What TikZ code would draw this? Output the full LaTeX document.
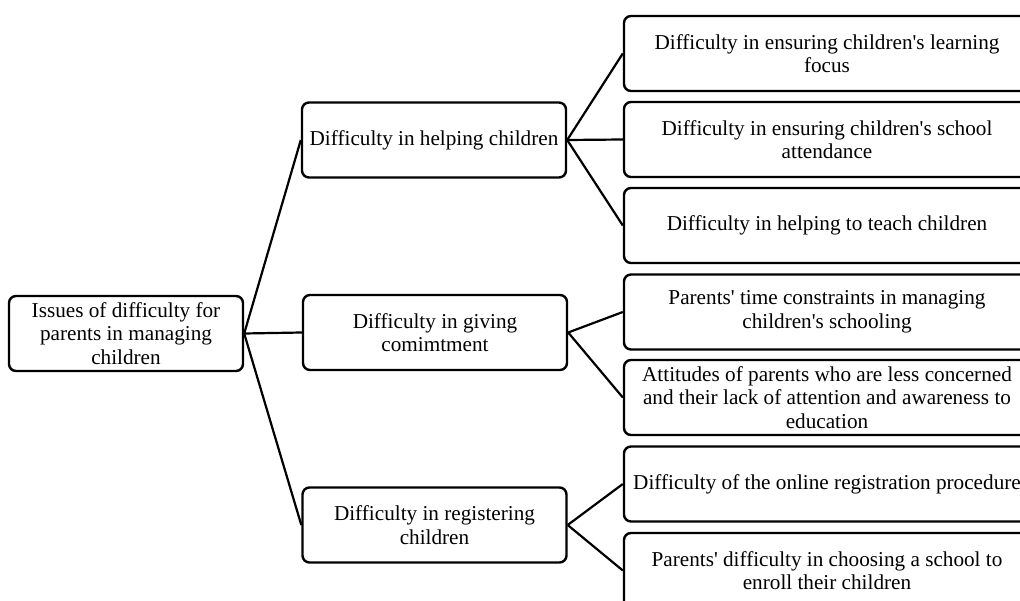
\documentclass[tikz,border=0pt]{standalone}
\usepackage{fontspec}
\setmainfont{Liberation Serif}[Ligatures=TeXOff]
\begin{document}
\begin{tikzpicture}[x=1pt,y=-1pt,
  box/.style={draw=black, line width=2.4pt, rounded corners=7pt, align=center,
    inner sep=0pt, font=\fontsize{21.2}{23.6}\selectfont},
  rootbox/.style={box, minimum width=234pt, minimum height=75pt},
  midbox/.style={box, minimum width=264pt, minimum height=75pt},
  leafbox/.style={box, minimum width=406pt, minimum height=75pt},
  conn/.style={line width=2.2pt}]
\useasboundingbox (0,0) rectangle (1020,601);
\clip (0,0) rectangle (1020,601);
\node[rootbox] (root) at (126,333.5) {Issues of difficulty for\\parents in managing\\children};
\node[midbox] (a) at (434,140) {Difficulty in helping children};
\node[midbox] (b) at (435,332.5) {Difficulty in giving\\comimtment};
\node[midbox] (c) at (434.5,525) {Difficulty in registering\\children};
\node[leafbox] (l1) at (827,53.5) {Difficulty in ensuring children's learning\\focus};
\node[leafbox] (l2) at (827,139.5) {Difficulty in ensuring children's school\\attendance};
\node[leafbox] (l3) at (827,225.5) {Difficulty in helping to teach children};
\node[leafbox] (l4) at (827,312) {Parents' time constraints in managing\\children's schooling};
\node[leafbox] (l5) at (827,397.5) {Attitudes of parents who are less concerned\\and their lack of attention and awareness to\\education};
\node[leafbox] (l6) at (827,484) {Difficulty of the online registration procedure};
\node[leafbox] (l7) at (827,570.5) {Parents' difficulty in choosing a school to\\enroll their children};
\draw[conn] (root.east) -- (a.west);
\draw[conn] (root.east) -- (b.west);
\draw[conn] (root.east) -- (c.west);
\draw[conn] (a.east) -- (l1.west);
\draw[conn] (a.east) -- (l2.west);
\draw[conn] (a.east) -- (l3.west);
\draw[conn] (b.east) -- (l4.west);
\draw[conn] (b.east) -- (l5.west);
\draw[conn] (c.east) -- (l6.west);
\draw[conn] (c.east) -- (l7.west);
\end{tikzpicture}
\end{document}
